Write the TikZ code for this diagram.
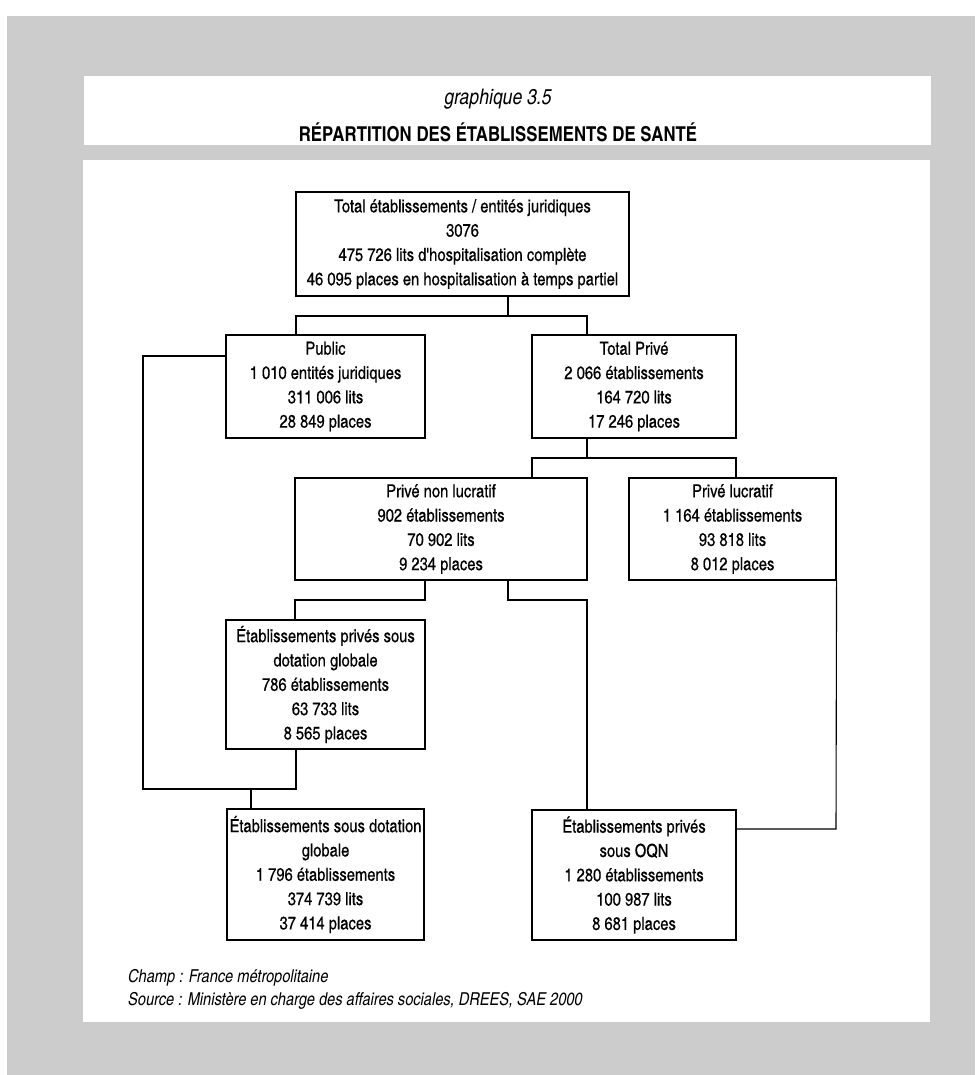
\documentclass[tikz,border=0pt]{standalone}
\usepackage{fontspec}
\setmainfont{texgyreheroscn}[Extension=.otf, UprightFont=*-regular, BoldFont=*-bold, ItalicFont=*-italic, BoldItalicFont=*-bolditalic]
\newfontfamily\boxfont{texgyreheroscn}[Extension=.otf, UprightFont=*-regular, BoldFont=*-bold, ItalicFont=*-italic, BoldItalicFont=*-bolditalic, FakeBold=0.5]
\definecolor{bggray}{HTML}{CCCCCC}
\begin{document}
\begin{tikzpicture}[x=1pt,y=-1pt,
  box/.style={draw=black, line width=1.1pt, inner sep=0pt, align=center, font=\boxfont\fontsize{18}{24.3}\selectfont},
  link/.style={draw=black, line width=1.1pt},
  note/.style={anchor=west, inner sep=0pt, font=\itshape\fontsize{17.8}{20}\selectfont}]
\useasboundingbox (0,0) rectangle (975,1075);
\fill[white] (0,0) rectangle (975,1075);
\fill[bggray] (7,16) rectangle (975,1075);
\fill[white] (84,76) rectangle (931,145);
\fill[white] (83,160) rectangle (930,1022);

\node[inner sep=0pt, font=\itshape\fontsize{21.5}{22}\selectfont] (gtitle) at (498,99) {graphique 3.5};
\node[inner sep=0pt, font=\bfseries\fontsize{20.5}{22}\selectfont] (mtitle) at (498,132) {RÉPARTITION DES ÉTABLISSEMENTS DE SANTÉ};

\node[box, minimum width=333pt, minimum height=104pt] (total) at (462.5,244)
  {Total établissements / entités juridiques\\3076\\475 726 lits d'hospitalisation complète\\46 095 places en hospitalisation à temps partiel};
\node[box, minimum width=199pt, minimum height=103pt] (public) at (325.5,386.5)
  {Public\\1 010 entités juridiques\\311 006 lits\\28 849 places};
\node[box, minimum width=204pt, minimum height=103pt] (totpriv) at (634,386.5)
  {Total Privé\\2 066 établissements\\164 720 lits\\17 246 places};
\node[box, minimum width=292pt, minimum height=102pt] (pnl) at (441,529)
  {Privé non lucratif\\902 établissements\\70 902 lits\\9 234 places};
\node[box, minimum width=207pt, minimum height=102pt] (pl) at (732.5,529)
  {Privé lucratif\\1 164 établissements\\93 818 lits\\8 012 places};
\node[box, minimum width=199pt, minimum height=129pt] (epsdg) at (325.5,684.5)
  {Établissements privés sous\\dotation globale\\786 établissements\\63 733 lits\\8 565 places};
\node[box, minimum width=197pt, minimum height=131pt] (bl) at (325.5,874.5)
  {Établissements sous dotation\\globale\\1 796 établissements\\374 739 lits\\37 414 places};
\node[box, minimum width=204pt, minimum height=130pt] (oqn) at (634,875)
  {Établissements privés\\sous OQN\\1 280 établissements\\100 987 lits\\8 681 places};

% junction coordinates
\coordinate (t1) at (508,316);
\coordinate (a1) at (296,316);
\coordinate (a2) at (587,316);
\coordinate (p1) at (587,458);
\coordinate (b1) at (532,458);
\coordinate (b2) at (736,458);
\coordinate (c1) at (425,600);
\coordinate (c2) at (295,600);
\coordinate (d1) at (508,600);
\coordinate (d2) at (587,600);
\coordinate (e1) at (836,829);
\coordinate (f1) at (143,356);
\coordinate (f2) at (143,789);
\coordinate (f3) at (296,789);
\coordinate (g1) at (251,789);

\draw[link] (t1 |- total.south) -- (t1);
\draw[link] (a1 |- public.north) -- (a1) -- (a2) -- (a2 |- totpriv.north);
\draw[link] (p1 |- totpriv.south) -- (p1);
\draw[link] (b1 |- pnl.north) -- (b1) -- (b2) -- (b2 |- pl.north);
\draw[link] (c1 |- pnl.south) -- (c1) -- (c2) -- (c2 |- epsdg.north);
\draw[link] (d1 |- pnl.south) -- (d1) -- (d2) -- (d2 |- oqn.north);
\draw[link] (pl.south east) -- (e1) -- (e1 -| oqn.east);
\draw[link] (f1 -| public.west) -- (f1) -- (f2) -- (f3) -- (f3 |- epsdg.south);
\draw[link] (g1) -- (g1 |- bl.north);

\node[note] (champ) at (128,978) {Champ : France métropolitaine};
\node[note] (source) at (128,1001) {Source : Ministère en charge des affaires sociales, DREES, SAE 2000};
\end{tikzpicture}
\end{document}
